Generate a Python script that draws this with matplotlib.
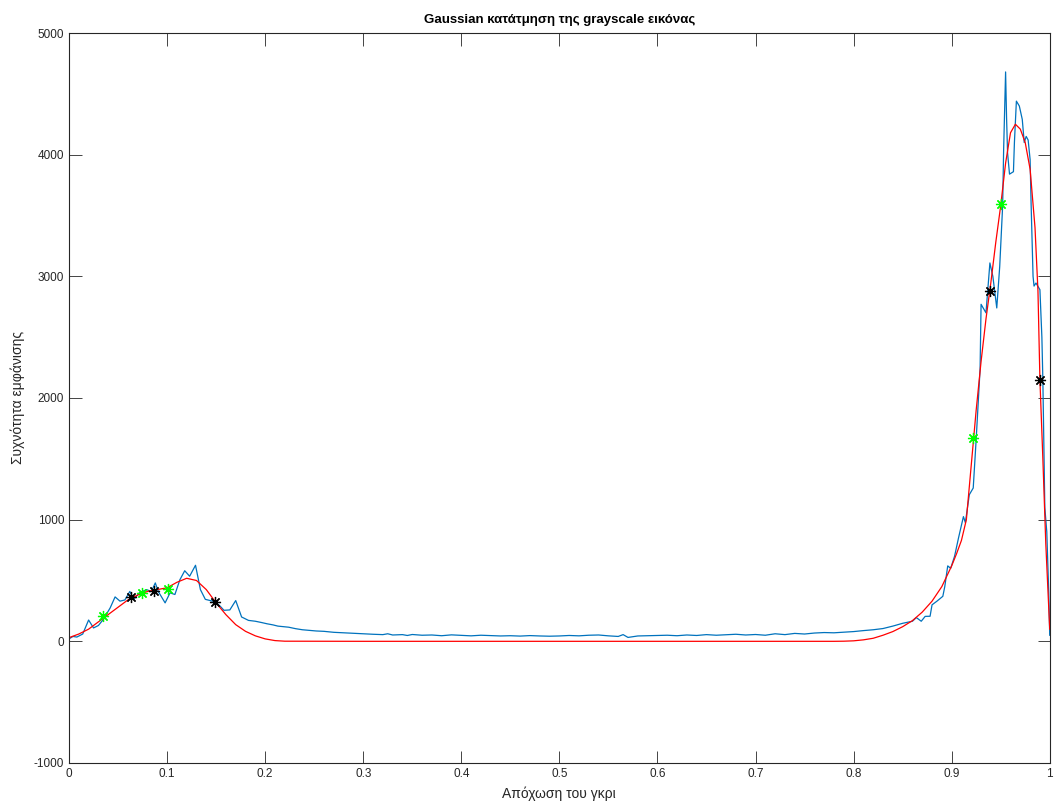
import matplotlib
matplotlib.use('Agg')
import matplotlib.pyplot as plt

plt.rcParams['font.family'] = ['Liberation Sans', 'DejaVu Sans']
plt.rcParams['axes.unicode_minus'] = False

# Histogram of the grayscale image (blue)
hist_x = [0.000, 0.004, 0.008, 0.014, 0.020, 0.025, 0.030, 0.035, 0.042, 0.047,
          0.052, 0.057, 0.062, 0.066, 0.072, 0.079, 0.084, 0.088, 0.091, 0.098,
          0.103, 0.108, 0.113, 0.118, 0.123, 0.129, 0.134, 0.139, 0.144, 0.149,
          0.154, 0.158, 0.164, 0.170, 0.176, 0.183, 0.190, 0.196, 0.202, 0.208,
          0.213, 0.219, 0.224, 0.231, 0.238, 0.245, 0.252, 0.260, 0.270, 0.280,
          0.293, 0.300, 0.310, 0.320, 0.325, 0.330, 0.340, 0.345, 0.350, 0.360,
          0.370, 0.380, 0.390, 0.400, 0.410, 0.420, 0.430, 0.440, 0.450, 0.460,
          0.470, 0.480, 0.490, 0.500, 0.510, 0.520, 0.530, 0.540, 0.550, 0.560,
          0.565, 0.570, 0.580, 0.590, 0.600, 0.610, 0.620, 0.630, 0.640, 0.650,
          0.660, 0.670, 0.680, 0.690, 0.700, 0.710, 0.720, 0.730, 0.740, 0.750,
          0.760, 0.770, 0.780, 0.790, 0.800, 0.810, 0.820, 0.830, 0.840, 0.850,
          0.860, 0.864, 0.869, 0.873, 0.878, 0.880, 0.885, 0.891, 0.893, 0.896,
          0.899, 0.903, 0.907, 0.912, 0.914, 0.918, 0.922, 0.925, 0.929, 0.930,
          0.935, 0.939, 0.942, 0.946, 0.949, 0.952, 0.953, 0.955, 0.956, 0.957,
          0.959, 0.963, 0.964, 0.966, 0.969, 0.972, 0.974, 0.976, 0.978, 0.980,
          0.981, 0.983, 0.984, 0.986, 0.990, 0.992, 0.993, 0.995, 0.997, 0.999,
          1.000]
hist_y = [20, 40, 35, 60, 175, 110, 130, 180, 275, 365,
          330, 340, 410, 345, 400, 425, 410, 480, 410, 316,
          398, 385, 505, 580, 535, 625, 425, 345, 335, 325,
          290, 255, 258, 335, 200, 172, 165, 155, 144, 135,
          125, 120, 116, 104, 95, 90, 85, 82, 74, 70,
          65, 62, 58, 55, 62, 52, 55, 48, 56, 50,
          52, 46, 53, 49, 45, 50, 47, 44, 46, 43,
          47, 44, 42, 44, 48, 45, 50, 52, 45, 40,
          55, 32, 44, 46, 48, 50, 46, 52, 48, 55,
          50, 54, 58, 52, 56, 50, 62, 55, 65, 60,
          68, 72, 70, 75, 80, 88, 95, 105, 125, 148,
          165, 195, 165, 205, 206, 300, 330, 370, 450, 620,
          600, 700, 850, 1025, 975, 1205, 1260, 1660, 2240, 2770,
          2700, 3110, 3000, 2740, 3080, 3580, 4040, 4680, 4300, 4015,
          3840, 3860, 4100, 4440, 4400, 4290, 4100, 4150, 4120, 3960,
          3600, 3000, 2920, 2945, 2890, 2500, 2150, 1100, 900, 400,
          50]

# Gaussian mixture fit (red)
fit_x = [0.00, 0.01, 0.02, 0.03, 0.04, 0.05, 0.06, 0.07, 0.08, 0.09,
         0.10, 0.11, 0.12, 0.13, 0.14, 0.15, 0.16, 0.17, 0.18, 0.19,
         0.20, 0.21, 0.22, 0.30, 0.40, 0.50, 0.60, 0.70, 0.78, 0.79,
         0.80, 0.81, 0.82, 0.83, 0.84, 0.85, 0.86, 0.87, 0.88, 0.89,
         0.90, 0.905, 0.91, 0.915, 0.92, 0.925, 0.93, 0.935, 0.94, 0.945,
         0.95, 0.955, 0.96, 0.965, 0.97, 0.975, 0.98, 0.985, 0.988, 0.99,
         0.993, 0.996, 1.00]
fit_y = [30, 60, 100, 160, 220, 280, 340, 380, 410, 425,
         440, 485, 518, 500, 425, 316, 219, 137, 82, 45,
         20, 6, 1, 0, 0, 0, 0, 0, 0, 1,
         4, 12, 25, 50, 80, 120, 170, 240, 330, 450,
         620, 720, 830, 1000, 1450, 1900, 2300, 2650, 2950, 3280,
         3580, 3930, 4180, 4250, 4210, 4100, 3880, 3400, 2880, 2150,
         1500, 800, 100]

# Segment boundaries (black asterisks) and segment means (green asterisks)
black_x = [0.063, 0.087, 0.149, 0.939, 0.990]
black_y = [362, 417, 324, 2882, 2150]
green_x = [0.035, 0.074, 0.101, 0.922, 0.950]
green_y = [208, 398, 431, 1673, 3596]

AXIS = '#262626'
ASTERISK = (8, 2, 0)

fig = plt.figure(figsize=(10.55, 8.05), dpi=100)
ax = fig.add_axes([0.0654, 0.0522, 0.9296, 0.9068])

ax.plot(hist_x, hist_y, color='#0072BD', linewidth=0.9)
ax.plot(fit_x, fit_y, color='#FF0000', linewidth=0.9)
ax.plot(black_x, black_y, linestyle='none', marker=ASTERISK, color='black',
        markersize=8, markeredgewidth=0.9)
ax.plot(green_x, green_y, linestyle='none', marker=ASTERISK, color='#00FF00',
        markersize=8, markeredgewidth=0.9)

ax.set_xlim(0, 1)
ax.set_ylim(-1000, 5000)
ax.set_xticks([i / 10 for i in range(11)])
ax.set_xticklabels(['0', '0.1', '0.2', '0.3', '0.4', '0.5', '0.6', '0.7', '0.8', '0.9', '1'])
ax.set_yticks(range(-1000, 5001, 1000))

ax.tick_params(direction='in', top=True, right=True, length=9, width=0.6,
               colors=AXIS, labelsize=8.5)
for s in ax.spines.values():
    s.set_color(AXIS)
    s.set_linewidth(0.8)

ax.set_title('Gaussian κατάτμηση της grayscale εικόνας', fontsize=9.5,
             fontweight='bold', color='black', pad=7)
ax.set_xlabel('Απόχωση του γκρι', fontsize=10, color=AXIS, labelpad=5)
ax.set_ylabel('Συχνότητα εμφάνισης', fontsize=10, color=AXIS, labelpad=6)

fig.savefig('out.png', dpi=100, facecolor='white')
